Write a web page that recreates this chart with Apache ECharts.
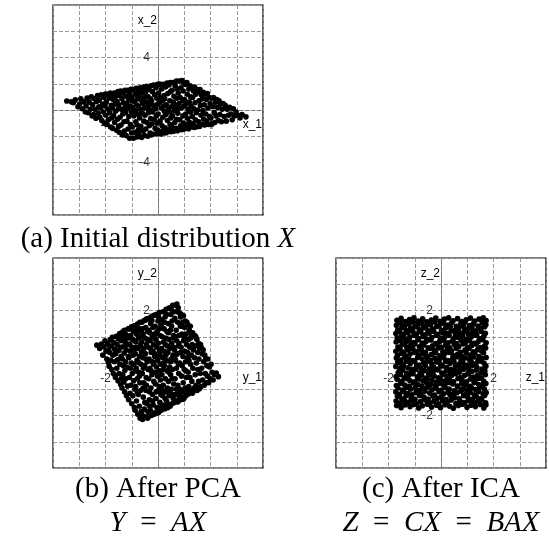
<!DOCTYPE html>
<html>
<head>
<meta charset="utf-8">
<script src="https://cdn.jsdelivr.net/npm/echarts@6/dist/echarts.min.js"></script>
<style>html,body{margin:0;padding:0;background:#fff}#c{width:549px;height:540px}</style>
</head>
<body>
<div id="c"></div>
<script>
// ---- Panel (a): initial distribution X (parallelogram cloud) ----
const pointsA = [
[-6.95,0.69],[-6.6,0.62],
[-6.45,0.55],[-6.3,0.78],[-6.1,0.25],
[-5.97,0.45],[-5.88,0.85],[-5.76,0.10],[-5.64,0.62],[-5.53,-0.15],
[-5.48,0.30],[-5.40,0.92],[-5.32,-0.20],[-5.24,0.60],[-5.16,0.05],[-5.08,1.00],[-5.02,-0.45],
[-4.98,0.40],[-4.92,-0.35],[-4.86,0.85],[-4.80,0.05],[-4.73,-0.62],[-4.67,0.65],[-4.61,1.10],[-4.56,-0.25],[-4.51,0.25],
[-4.48,0.75],[-4.43,-0.55],[-4.38,0.15],[-4.33,1.15],[-4.28,-0.80],[-4.22,0.45],[-4.17,-0.15],[-4.12,0.95],[-4.08,-1.00],[-4.04,0.30],[-4.01,1.22],
[-3.98,-0.40],[-3.94,0.60],[-3.90,-1.10],[-3.85,1.20],[-3.81,0.05],[-3.77,-0.75],[-3.72,0.90],[-3.68,-0.20],[-3.64,1.30],[-3.60,-1.30],[-3.56,0.35],[-3.52,-0.60],[-3.50,1.05],
[-3.48,0.15],[-3.45,-1.40],[-3.41,0.80],[-3.38,-0.45],[-3.34,1.30],[-3.30,-0.95],[-3.27,0.45],[-3.23,-0.10],[-3.19,1.05],[-3.15,-1.55],[-3.12,0.65],[-3.08,-0.70],[-3.05,1.40],[-3.02,0.10],[-3.00,-1.25],
[-2.98,0.40],[-2.95,-1.70],[-2.92,1.10],[-2.89,-0.55],[-2.85,1.45],[-2.82,-1.15],[-2.79,0.05],[-2.75,0.85],[-2.72,-1.90],[-2.68,-0.30],[-2.65,1.30],[-2.62,0.55],[-2.59,-0.90],[-2.56,-1.60],[-2.53,1.50],[-2.51,0.20],
[-2.49,-0.20],[-2.46,1.05],[-2.43,-1.95],[-2.40,0.50],[-2.37,-0.85],[-2.34,1.50],[-2.31,0.10],[-2.28,-1.45],[-2.25,0.85],[-2.22,-0.50],[-2.19,1.25],[-2.16,-2.15],[-2.13,0.30],[-2.10,-1.10],[-2.07,1.58],[-2.04,-0.15],[-2.02,0.70],[-2.01,-1.75],
[-1.99,0.95],[-1.96,-1.30],[-1.93,0.20],[-1.90,1.55],[-1.87,-2.15],[-1.84,-0.45],[-1.81,0.65],[-1.78,-1.70],[-1.75,1.20],[-1.72,-0.05],[-1.69,-0.90],[-1.66,1.65],[-1.63,0.40],[-1.60,-2.05],[-1.58,-1.15],[-1.56,0.85],[-1.54,-0.30],[-1.52,1.40],[-1.51,-1.55],
[-1.49,0.30],[-1.46,-1.85],[-1.43,1.10],[-1.40,-0.60],[-1.37,1.70],[-1.34,0.05],[-1.31,-1.25],[-1.28,0.75],[-1.25,-2.10],[-1.22,1.35],[-1.19,-0.25],[-1.16,0.50],[-1.13,-1.60],[-1.10,1.75],[-1.08,-0.85],[-1.06,0.95],[-1.04,-1.95],[-1.02,0.15],[-1.01,1.50],
[-0.99,-0.40],[-0.96,1.25],[-0.93,-1.45],[-0.90,0.60],[-0.87,1.80],[-0.84,-0.95],[-0.81,0.20],[-0.78,-2.00],[-0.75,1.00],[-0.72,-0.20],[-0.69,1.55],[-0.66,-1.20],[-0.63,0.40],[-0.60,-1.75],[-0.58,0.85],[-0.56,-0.65],[-0.54,1.85],[-0.52,0.00],[-0.51,-1.90],
[-0.49,0.70],[-0.46,-1.05],[-0.43,1.40],[-0.40,-0.15],[-0.37,-1.85],[-0.34,1.90],[-0.31,0.35],[-0.28,-0.70],[-0.25,1.15],[-0.22,-1.40],[-0.19,0.10],[-0.16,1.70],[-0.13,-0.45],[-0.10,-1.80],[-0.08,0.90],[-0.06,-1.00],[-0.04,1.95],[-0.02,0.45],[-0.01,-1.55],
[0.01,-0.30],[0.04,1.30],[0.07,-1.65],[0.10,0.55],[0.13,1.97],[0.16,-0.85],[0.19,0.95],[0.22,-1.82],[0.25,0.15],[0.28,1.60],[0.31,-1.20],[0.34,0.70],[0.37,-0.55],[0.40,1.95],[0.42,-1.50],[0.44,0.30],[0.46,1.10],[0.48,-0.10],[0.49,-1.75],
[0.51,0.85],[0.54,-1.35],[0.57,1.75],[0.60,-0.35],[0.63,0.40],[0.66,-1.72],[0.69,2.05],[0.72,-0.80],[0.75,1.25],[0.78,0.05],[0.81,-1.50],[0.84,1.90],[0.87,-0.15],[0.90,0.70],[0.92,-1.10],[0.94,2.10],[0.96,1.40],[0.98,-0.60],[0.99,-1.65],
[1.01,0.25],[1.04,-1.25],[1.07,1.50],[1.10,-0.45],[1.13,2.10],[1.16,0.60],[1.19,-1.62],[1.22,1.05],[1.25,-0.05],[1.28,-0.95],[1.31,1.85],[1.34,0.35],[1.37,-1.40],[1.40,2.20],[1.42,-0.70],[1.44,0.90],[1.46,1.60],[1.48,-1.58],[1.49,0.10],
[1.51,-0.25],[1.54,1.30],[1.57,-1.50],[1.60,0.50],[1.63,2.20],[1.66,-0.75],[1.69,0.95],[1.72,-1.20],[1.75,1.70],[1.78,0.15],[1.81,-1.50],[1.84,2.25],[1.87,0.70],[1.90,-0.45],[1.92,1.45],[1.94,-1.00],[1.96,2.05],[1.98,0.30],[1.99,-1.45],
[2.02,0.80],[2.05,-1.40],[2.08,1.95],[2.11,-0.30],[2.14,0.45],[2.17,-1.10],[2.20,2.10],[2.23,1.20],[2.26,-0.65],[2.29,0.05],[2.32,-1.42],[2.35,1.60],[2.38,0.60],[2.41,-0.95],[2.44,1.85],[2.47,-0.15],[2.49,1.00],
[2.52,0.30],[2.55,-1.30],[2.58,1.70],[2.61,-0.50],[2.64,0.95],[2.67,-1.05],[2.70,1.45],[2.73,0.10],[2.76,-1.32],[2.79,1.75],[2.82,0.55],[2.85,-0.75],[2.88,1.20],[2.91,-0.20],[2.94,-1.28],[2.97,1.55],
[3.02,0.00],[3.06,1.40],[3.10,-0.90],[3.13,0.70],[3.17,-1.25],[3.20,1.55],[3.24,0.35],[3.28,-0.40],[3.31,1.15],[3.35,-1.10],[3.38,0.85],[3.42,-0.05],[3.45,1.35],[3.48,-0.70],
[3.52,0.40],[3.56,-1.15],[3.60,1.20],[3.64,-0.30],[3.68,0.80],[3.72,-0.85],[3.76,1.25],[3.80,0.15],[3.84,-1.10],[3.88,0.95],[3.92,-0.50],[3.97,0.50],
[4.03,-0.60],[4.08,0.90],[4.13,-1.05],[4.18,0.25],[4.23,0.95],[4.28,-0.20],[4.33,-0.95],[4.38,0.60],[4.43,-0.45],[4.48,0.80],
[4.53,0.20],[4.59,-0.80],[4.65,0.70],[4.71,-0.35],[4.77,0.45],[4.83,-0.90],[4.89,0.05],[4.96,0.50],
[5.04,-0.50],[5.12,0.35],[5.20,-0.85],[5.28,0.05],[5.36,-0.40],[5.45,0.20],
[5.55,-0.30],[5.65,-0.75],[5.74,0.10],[5.84,-0.45],[5.95,-0.15],
[6.08,-0.40],[6.25,-0.60],[6.40,-0.35],
[6.70,-0.52]
];

// ---- Panel (b): after PCA, Y = AX (rotated square) ----
const pointsB = [
[-2.33,0.68],[-2.22,0.55],[-2.15,0.72],
[-2.10,0.30],[-2.06,0.62],[-2.02,0.85],[-1.98,0.45],[-1.95,0.15],[-1.92,0.72],[-1.89,0.02],[-1.88,0.50],
[-1.86,-0.12],[-1.84,0.40],[-1.82,0.88],[-1.80,0.10],[-1.78,0.65],[-1.76,-0.25],[-1.74,0.98],[-1.72,0.30],[-1.70,-0.40],[-1.68,0.78],[-1.66,0.05],[-1.65,0.52],[-1.63,-0.48],
[-1.62,-0.55],[-1.61,0.35],[-1.59,1.02],[-1.57,-0.20],[-1.56,0.70],[-1.54,0.12],[-1.52,-0.68],[-1.51,0.92],[-1.49,0.48],[-1.48,-0.40],[-1.46,1.12],[-1.45,-0.05],[-1.43,0.60],[-1.42,-0.82],[-1.41,0.25],[-1.40,0.85],[-1.39,-0.58],[-1.38,1.05],
[-1.37,-0.95],[-1.36,0.15],[-1.35,1.18],[-1.34,-0.45],[-1.33,0.62],[-1.32,-0.10],[-1.31,0.95],[-1.30,-0.72],[-1.29,0.38],[-1.28,1.25],[-1.27,-1.10],[-1.26,-0.28],[-1.25,0.80],[-1.24,0.05],[-1.23,-0.60],[-1.22,1.08],[-1.21,0.50],[-1.20,-1.25],[-1.19,-0.15],[-1.17,0.70],[-1.16,-0.88],[-1.14,1.30],[-1.13,0.25],
[-1.12,-1.40],[-1.11,0.20],[-1.10,1.30],[-1.09,-0.55],[-1.08,0.72],[-1.07,-1.15],[-1.06,0.45],[-1.05,-0.20],[-1.04,1.05],[-1.03,-0.85],[-1.02,0.00],[-1.01,1.38],[-1.00,-1.55],[-0.99,0.60],[-0.98,-0.40],[-0.97,0.90],[-0.96,-1.25],[-0.95,0.30],[-0.94,1.20],[-0.93,-0.68],[-0.92,-0.05],[-0.91,1.42],[-0.90,-1.70],[-0.89,0.52],[-0.88,-1.00],[-0.88,0.85],[-0.87,-0.30],[-1.13,0.95],
[-0.87,-1.80],[-0.86,0.35],[-0.86,1.40],[-0.85,-0.90],[-0.84,0.80],[-0.83,-0.20],[-0.82,-1.45],[-0.81,1.10],[-0.80,0.10],[-0.79,-0.60],[-0.78,1.48],[-0.77,-1.95],[-0.76,0.55],[-0.75,-1.20],[-0.74,0.95],[-0.73,-0.35],[-0.72,1.30],[-0.71,-1.65],[-0.70,0.25],[-0.69,-0.75],[-0.69,1.55],[-0.68,-2.10],[-0.67,0.68],[-0.66,-1.05],[-0.65,-0.05],[-0.64,1.20],[-0.64,-1.85],[-0.63,0.42],[-0.83,1.25],[-0.79,-1.10],[-0.74,0.02],[-0.71,-0.50],[-0.67,1.00],[-0.85,0.60],
[-0.62,-1.95],[-0.62,0.80],[-0.61,1.55],[-0.60,-0.40],[-0.59,-2.15],[-0.58,0.20],[-0.57,1.10],[-0.56,-1.30],[-0.55,0.55],[-0.54,-0.75],[-0.53,1.62],[-0.52,-1.75],[-0.51,-0.10],[-0.50,0.95],[-0.49,-2.05],[-0.48,0.35],[-0.47,1.35],[-0.46,-1.05],[-0.45,-0.55],[-0.44,0.70],[-0.43,1.68],[-0.42,-1.55],[-0.41,0.05],[-0.40,-2.10],[-0.39,1.20],[-0.38,-0.25],[-0.60,1.30],[-0.57,-0.95],[-0.53,0.40],[-0.50,-1.50],[-0.47,1.64],[-0.44,-0.85],[-0.41,0.90],[-0.39,-1.85],[-0.56,-0.20],[-0.46,0.15],
[-0.37,-2.05],[-0.37,0.60],[-0.36,1.70],[-0.35,-0.60],[-0.34,0.15],[-0.33,-1.40],[-0.32,1.15],[-0.31,-0.20],[-0.30,0.85],[-0.29,-1.80],[-0.28,1.50],[-0.27,-0.95],[-0.26,0.40],[-0.25,-2.00],[-0.24,1.78],[-0.23,-0.45],[-0.22,1.00],[-0.21,-1.20],[-0.20,0.05],[-0.19,1.35],[-0.18,-1.60],[-0.17,0.70],[-0.16,-0.70],[-0.15,1.82],[-0.14,-1.95],[-0.13,0.25],[-0.35,1.25],[-0.32,-1.10],[-0.29,0.55],[-0.26,-0.30],[-0.23,1.62],[-0.20,-1.45],[-0.17,-0.05],[-0.14,1.10],[-0.31,-1.65],[-0.19,0.45],
[-0.12,-1.90],[-0.12,0.35],[-0.11,1.40],[-0.10,-0.80],[-0.09,0.90],[-0.08,-1.35],[-0.07,1.85],[-0.06,-0.15],[-0.05,0.60],[-0.04,-1.70],[-0.03,1.20],[-0.02,-0.50],[-0.01,0.10],[0.00,1.60],[0.01,-1.05],[0.02,0.75],[0.03,-1.88],[0.04,-0.30],[0.05,1.92],[0.06,0.45],[0.07,-1.50],[0.08,1.05],[0.09,-0.65],[0.10,-0.05],[0.11,1.45],[0.12,-1.20],[-0.10,1.10],[-0.07,-1.10],[-0.04,0.25],[-0.01,-1.90],[0.02,1.75],[0.05,-0.90],[0.08,0.30],[0.11,-1.70],[-0.09,-0.35],[0.04,1.30],
[0.13,-1.80],[0.13,0.55],[0.14,1.65],[0.15,-0.45],[0.16,1.00],[0.17,-1.25],[0.18,0.20],[0.19,1.95],[0.20,-0.85],[0.21,0.80],[0.22,-1.60],[0.23,1.30],[0.24,-0.10],[0.25,0.45],[0.26,-1.74],[0.27,1.75],[0.28,-0.60],[0.29,0.95],[0.30,-1.10],[0.31,2.05],[0.32,0.10],[0.33,-1.45],[0.34,1.20],[0.35,-0.30],[0.36,0.65],[0.37,-1.70],[0.15,1.35],[0.18,-1.05],[0.21,0.00],[0.24,1.55],[0.27,-1.35],[0.30,0.30],[0.33,1.85],[0.36,-0.95],[0.19,-0.25],[0.28,0.70],
[0.38,-1.58],[0.38,0.40],[0.39,1.50],[0.40,-0.70],[0.41,0.90],[0.42,-1.25],[0.43,2.10],[0.44,-0.15],[0.45,0.55],[0.46,-1.65],[0.47,1.25],[0.48,-0.45],[0.49,1.85],[0.50,0.15],[0.51,-1.00],[0.52,0.75],[0.53,-1.55],[0.54,1.60],[0.55,-0.25],[0.56,2.20],[0.57,0.30],[0.58,-1.35],[0.59,1.05],[0.60,-0.80],[0.61,1.95],[0.62,-1.50],[0.40,1.15],[0.44,-1.05],[0.48,0.05],[0.52,1.40],[0.56,-1.20],[0.60,0.60],[0.41,-0.35],[0.50,2.05],[0.54,-0.60],[0.58,0.95],
[0.63,-1.50],[0.63,0.50],[0.64,1.70],[0.65,-0.60],[0.66,2.20],[0.67,0.10],[0.68,-1.20],[0.69,1.25],[0.70,-0.20],[0.71,0.85],[0.72,2.25],[0.73,-1.45],[0.74,0.35],[0.75,1.55],[0.76,-0.85],[0.77,2.10],[0.78,0.65],[0.79,-0.40],[0.80,1.05],[0.81,-1.35],[0.82,1.90],[0.83,0.00],[0.84,-1.00],[0.85,1.40],[0.86,0.40],[0.87,-1.40],[0.66,1.00],[0.70,-1.00],[0.74,1.95],[0.78,-0.05],[0.82,-1.15],[0.86,1.75],[0.68,0.30],[0.76,-1.48],[0.80,0.75],
[0.88,-1.30],[0.88,0.60],[0.89,1.85],[0.90,-0.50],[0.91,1.10],[0.92,-0.10],[0.93,-1.10],[0.94,1.55],[0.95,0.25],[0.96,-0.75],[0.97,1.80],[0.98,0.85],[0.99,-1.35],[1.00,-0.25],[1.01,1.35],[1.02,0.45],[1.03,-0.95],[1.04,1.60],[1.05,0.05],[1.06,-1.25],[1.07,1.10],[1.08,-0.55],[1.09,0.70],[1.10,1.55],[1.11,-1.05],[1.12,0.20],[0.90,1.40],[0.95,-1.38],[1.00,0.95],[1.06,-0.30],
[1.13,-1.20],[1.13,0.40],[1.14,1.45],[1.15,-0.35],[1.16,0.90],[1.17,-0.90],[1.18,0.10],[1.19,1.25],[1.20,-1.15],[1.21,0.60],[1.22,-0.55],[1.23,1.40],[1.24,-0.05],[1.25,0.95],[1.26,-1.05],[1.27,0.30],[1.28,1.10],[1.29,-0.70],[1.30,0.70],[1.31,-1.15],[1.32,1.15],[1.33,-0.20],[1.35,0.50],[1.37,-0.95],
[1.38,-1.05],[1.39,0.20],[1.40,1.05],[1.42,-0.45],[1.43,0.65],[1.45,-0.85],[1.46,0.00],[1.48,0.90],[1.49,-1.05],[1.51,0.40],[1.52,-0.25],[1.54,0.75],[1.55,-0.70],[1.56,0.15],[1.58,-0.98],[1.59,0.55],[1.61,-0.40],[1.62,0.70],[1.44,1.00],
[1.63,-0.90],[1.64,0.60],[1.66,-0.20],[1.68,0.35],[1.70,-0.65],[1.72,0.50],[1.74,0.05],[1.76,-0.85],[1.78,0.30],[1.80,-0.40],[1.82,0.15],[1.84,-0.75],[1.86,-0.10],
[1.88,-0.50],[1.90,0.15],[1.93,-0.75],[1.96,-0.15],[1.99,-0.60],[2.02,-0.05],[2.06,-0.35],[2.10,-0.65],
[2.15,-0.45],[2.22,-0.38],[2.30,-0.52]
];

// ---- Panel (c): after ICA, Z = CX = BAX (axis-aligned square) ----
const pointsC = [
[-1.69,-1.62],[-1.52,-1.70],[-1.37,-1.60],[-1.18,-1.66],[-1.03,-1.58],[-0.85,-1.71],[-0.71,-1.63],[-0.52,-1.57],[-0.36,-1.68],[-0.17,-1.61],[-0.02,-1.70],[0.15,-1.59],[0.33,-1.65],[0.47,-1.72],[0.66,-1.62],[0.81,-1.57],[0.99,-1.69],[1.14,-1.61],[1.31,-1.66],[1.50,-1.58],[1.63,-1.71],[1.71,-1.60],
[-1.71,-1.45],[-1.56,-1.53],[-1.40,-1.42],[-1.25,-1.50],[-1.09,-1.44],[-0.93,-1.55],[-0.78,-1.47],[-0.60,-1.41],[-0.44,-1.52],[-0.27,-1.46],[-0.10,-1.55],[0.06,-1.43],[0.24,-1.49],[0.39,-1.41],[0.57,-1.54],[0.73,-1.46],[0.90,-1.51],[1.06,-1.42],[1.22,-1.53],[1.39,-1.47],[1.55,-1.40],[1.70,-1.52],
[-1.66,-1.27],[-1.49,-1.36],[-1.33,-1.25],[-1.14,-1.33],[-0.99,-1.38],[-0.82,-1.24],[-0.65,-1.30],[-0.49,-1.37],[-0.31,-1.26],[-0.14,-1.34],[0.02,-1.28],[0.19,-1.39],[0.35,-1.23],[0.52,-1.32],[0.69,-1.36],[0.86,-1.25],[1.02,-1.31],[1.19,-1.38],[1.34,-1.27],[1.51,-1.35],[1.66,-1.24],
[-1.72,-1.10],[-1.58,-1.19],[-1.42,-1.08],[-1.27,-1.16],[-1.11,-1.21],[-0.95,-1.12],[-0.76,-1.18],[-0.61,-1.07],[-0.43,-1.14],[-0.25,-1.22],[-0.08,-1.09],[0.10,-1.17],[0.27,-1.11],[0.43,-1.20],[0.61,-1.13],[0.77,-1.07],[0.95,-1.19],[1.11,-1.12],[1.27,-1.21],[1.43,-1.09],[1.60,-1.16],[1.72,-1.13],
[-1.64,-0.95],[-1.47,-1.03],[-1.30,-0.92],[-1.16,-1.00],[-0.98,-0.94],[-0.83,-1.05],[-0.67,-0.97],[-0.50,-0.91],[-0.34,-1.02],[-0.18,-0.96],[0.00,-1.04],[0.16,-0.93],[0.31,-0.99],[0.50,-1.06],[0.64,-0.90],[0.83,-0.98],[0.98,-1.03],[1.16,-0.94],[1.31,-1.01],[1.48,-0.92],[1.65,-0.99],
[-1.70,-0.86],[-1.54,-0.77],[-1.38,-0.84],[-1.21,-0.89],[-1.05,-0.76],[-0.88,-0.82],[-0.73,-0.88],[-0.55,-0.75],[-0.39,-0.81],[-0.21,-0.87],[-0.05,-0.78],[0.12,-0.85],[0.28,-0.74],[0.45,-0.80],[0.62,-0.88],[0.79,-0.77],[0.94,-0.83],[1.10,-0.89],[1.26,-0.75],[1.44,-0.82],[1.58,-0.87],[1.71,-0.78],
[-1.67,-0.62],[-1.50,-0.70],[-1.35,-0.59],[-1.19,-0.67],[-1.01,-0.72],[-0.86,-0.61],[-0.69,-0.68],[-0.53,-0.58],[-0.36,-0.64],[-0.19,-0.73],[-0.03,-0.60],[0.14,-0.69],[0.32,-0.63],[0.48,-0.71],[0.65,-0.59],[0.80,-0.66],[0.97,-0.72],[1.13,-0.61],[1.30,-0.68],[1.46,-0.58],[1.63,-0.70],
[-1.71,-0.52],[-1.55,-0.44],[-1.40,-0.55],[-1.23,-0.47],[-1.07,-0.41],[-0.90,-0.53],[-0.74,-0.46],[-0.58,-0.57],[-0.41,-0.43],[-0.26,-0.50],[-0.09,-0.56],[0.08,-0.44],[0.23,-0.52],[0.41,-0.47],[0.56,-0.41],[0.74,-0.55],[0.89,-0.48],[1.05,-0.42],[1.22,-0.54],[1.37,-0.49],[1.54,-0.57],[1.69,-0.45],
[-1.63,-0.36],[-1.46,-0.27],[-1.31,-0.39],[-1.13,-0.31],[-0.97,-0.25],[-0.80,-0.37],[-0.63,-0.29],[-0.47,-0.40],[-0.30,-0.33],[-0.13,-0.26],[0.03,-0.38],[0.20,-0.30],[0.36,-0.40],[0.53,-0.28],[0.70,-0.35],[0.85,-0.25],[1.03,-0.39],[1.18,-0.32],[1.35,-0.27],[1.52,-0.38],[1.67,-0.30],
[-1.72,-0.13],[-1.57,-0.21],[-1.43,-0.10],[-1.26,-0.18],[-1.10,-0.24],[-0.93,-0.12],[-0.77,-0.19],[-0.60,-0.09],[-0.44,-0.22],[-0.28,-0.15],[-0.11,-0.23],[0.05,-0.11],[0.22,-0.17],[0.38,-0.24],[0.55,-0.10],[0.72,-0.20],[0.87,-0.14],[1.05,-0.22],[1.20,-0.09],[1.37,-0.17],[1.56,-0.23],[1.71,-0.12],
[-1.65,0.03],[-1.49,-0.06],[-1.32,0.07],[-1.17,-0.02],[-1.00,0.05],[-0.84,-0.08],[-0.66,0.01],[-0.51,0.08],[-0.35,-0.04],[-0.16,0.04],[-0.01,-0.07],[0.17,0.06],[0.34,-0.01],[0.49,0.07],[0.67,-0.05],[0.83,0.02],[1.00,-0.08],[1.15,0.05],[1.33,-0.03],[1.48,0.08],[1.64,-0.01],
[-1.70,0.19],[-1.53,0.11],[-1.39,0.23],[-1.22,0.14],[-1.06,0.09],[-0.89,0.21],[-0.72,0.15],[-0.56,0.24],[-0.40,0.10],[-0.23,0.18],[-0.07,0.12],[0.10,0.22],[0.26,0.09],[0.44,0.16],[0.59,0.24],[0.76,0.11],[0.92,0.19],[1.09,0.13],[1.24,0.23],[1.41,0.10],[1.57,0.17],[1.72,0.21],
[-1.66,0.28],[-1.51,0.37],[-1.34,0.26],[-1.18,0.34],[-1.02,0.40],[-0.85,0.29],[-0.70,0.36],[-0.52,0.25],[-0.37,0.32],[-0.20,0.39],[-0.04,0.27],[0.13,0.35],[0.30,0.40],[0.46,0.28],[0.63,0.33],[0.79,0.26],[0.96,0.38],[1.12,0.30],[1.29,0.36],[1.45,0.25],[1.62,0.39],
[-1.72,0.45],[-1.56,0.53],[-1.41,0.42],[-1.24,0.50],[-1.08,0.56],[-0.92,0.44],[-0.75,0.51],[-0.59,0.41],[-0.42,0.55],[-0.25,0.47],[-0.10,0.57],[0.07,0.43],[0.24,0.52],[0.40,0.46],[0.58,0.56],[0.73,0.41],[0.91,0.49],[1.07,0.55],[1.23,0.43],[1.40,0.51],[1.55,0.45],[1.70,0.57],
[-1.64,0.61],[-1.48,0.70],[-1.30,0.59],[-1.15,0.67],[-0.99,0.73],[-0.82,0.62],[-0.65,0.69],[-0.49,0.58],[-0.32,0.66],[-0.15,0.72],[0.01,0.60],[0.18,0.68],[0.34,0.58],[0.51,0.71],[0.68,0.63],[0.84,0.73],[1.01,0.60],[1.17,0.67],[1.34,0.72],[1.50,0.59],[1.66,0.65],
[-1.71,0.80],[-1.55,0.87],[-1.37,0.75],[-1.21,0.84],[-1.05,0.78],[-0.88,0.89],[-0.72,0.76],[-0.56,0.83],[-0.39,0.88],[-0.22,0.74],[-0.06,0.81],[0.11,0.86],[0.27,0.77],[0.43,0.84],[0.60,0.74],[0.77,0.87],[0.93,0.79],[1.08,0.85],[1.25,0.75],[1.42,0.82],[1.59,0.89],[1.72,0.77],
[-1.67,0.95],[-1.51,1.03],[-1.35,0.91],[-1.19,0.99],[-1.03,1.05],[-0.86,0.93],[-0.69,1.01],[-0.53,0.90],[-0.35,0.97],[-0.18,1.06],[-0.02,0.94],[0.15,1.00],[0.31,1.05],[0.48,0.92],[0.65,0.98],[0.82,1.04],[0.97,0.91],[1.15,0.99],[1.30,1.06],[1.47,0.93],[1.63,1.02],
[-1.72,1.12],[-1.57,1.20],[-1.42,1.08],[-1.26,1.16],[-1.09,1.22],[-0.94,1.10],[-0.77,1.18],[-0.61,1.07],[-0.45,1.14],[-0.28,1.21],[-0.12,1.09],[0.05,1.17],[0.21,1.12],[0.38,1.22],[0.55,1.07],[0.70,1.15],[0.88,1.20],[1.04,1.10],[1.20,1.17],[1.36,1.08],[1.53,1.21],[1.69,1.13],
[-1.65,1.26],[-1.49,1.35],[-1.33,1.24],[-1.16,1.32],[-1.00,1.38],[-0.83,1.27],[-0.67,1.34],[-0.50,1.23],[-0.33,1.30],[-0.16,1.39],[0.02,1.25],[0.18,1.33],[0.35,1.37],[0.52,1.24],[0.67,1.31],[0.85,1.39],[1.01,1.28],[1.18,1.35],[1.33,1.23],[1.50,1.32],[1.66,1.38],
[-1.70,1.44],[-1.54,1.52],[-1.38,1.41],[-1.22,1.49],[-1.06,1.55],[-0.90,1.43],[-0.73,1.50],[-0.57,1.40],[-0.40,1.47],[-0.24,1.56],[-0.08,1.42],[0.09,1.51],[0.26,1.45],[0.41,1.54],[0.58,1.40],[0.75,1.48],[0.91,1.55],[1.08,1.43],[1.24,1.50],[1.41,1.41],[1.57,1.53],[1.71,1.46],
[-1.68,1.63],[-1.52,1.70],[-1.36,1.58],[-1.20,1.66],[-1.03,1.72],[-0.87,1.60],[-0.70,1.68],[-0.54,1.57],[-0.37,1.64],[-0.20,1.71],[-0.04,1.59],[0.13,1.67],[0.29,1.72],[0.46,1.61],[0.63,1.69],[0.79,1.58],[0.96,1.65],[1.12,1.71],[1.28,1.60],[1.45,1.67],[1.61,1.72],[1.72,1.62]
];

// ---- axis ranges, tick labels, names, captions ----
const axisMin = [-8, -4, -4];
const axisMax = [8, 4, 4];
const axisStep = [2, 1, 1];
const shownTicks = [[-4, 4], [-2, 2], [-2, 2]];
const xNames = ['x_1', 'y_1', 'z_1'];
const yNames = ['x_2', 'y_2', 'z_2'];
const captionA = ['(a) Initial distribution ', 'X'];
const captionB = ['(b) After PCA', 'Y', 'AX'];
const captionC = ['(c) After ICA', 'Z', 'CX', 'BAX'];

const chart = echarts.init(document.getElementById('c'), null, {renderer: 'canvas'});
const grids = [
  {left: 53, top: 5, width: 210, height: 210},
  {left: 53, top: 258, width: 210, height: 210},
  {left: 336, top: 258, width: 210, height: 210}
];
const sans = 'Liberation Sans, Arial, Helvetica, sans-serif';
const serif = 'Liberation Serif, Times New Roman, serif';
const gridLine = {color: '#9a9a9a', width: 1, type: [4, 2]};
const axisLn = {color: '#777', width: 1, type: [4, 2]};
const tickFont = {color: '#000', fontFamily: sans, fontSize: 12};

function mkAxis(i, isX) {
  return {
    type: 'value', gridIndex: i, min: axisMin[i], max: axisMax[i], interval: axisStep[i],
    axisLine: {show: true, onZero: true, lineStyle: axisLn},
    axisTick: {show: false},
    splitLine: {show: true, lineStyle: gridLine},
    axisLabel: {show: false},
    name: isX ? xNames[i] : yNames[i],
    nameLocation: 'end',
    nameGap: isX ? -1 : -10,
    nameTextStyle: isX
      ? Object.assign({align: 'right', verticalAlign: 'top', padding: [9, 0, 0, 0]}, tickFont)
      : Object.assign({align: 'right', verticalAlign: 'top', padding: [0, 1, 0, 0]}, tickFont)
  };
}

const sets = [pointsA, pointsB, pointsC];
const series = [];
[0, 1, 2].forEach(i => {
  // tick labels on the zero-crossing axes (drawn beneath the clouds)
  series.push({
    type: 'scatter', xAxisIndex: i, yAxisIndex: i, silent: true, z: 1,
    symbolSize: 0, itemStyle: {color: 'transparent'},
    data: shownTicks[i].map(v => [v, 0]),
    label: Object.assign({show: true, position: 'bottom', distance: 10, formatter: p => String(p.value[0])}, tickFont)
  });
  series.push({
    type: 'scatter', xAxisIndex: i, yAxisIndex: i, silent: true, z: 1,
    symbolSize: 0, itemStyle: {color: 'transparent'},
    data: shownTicks[i].map(v => [0, v]),
    label: Object.assign({show: true, position: 'left', distance: 8, formatter: p => String(p.value[1])}, tickFont)
  });
  series.push({
    type: 'scatter', xAxisIndex: i, yAxisIndex: i, data: sets[i],
    symbol: 'circle', symbolSize: 5.6, itemStyle: {color: '#000', opacity: 1}, silent: true, z: 3
  });
});

const fs = 29;
const rich = {
  r: {fontFamily: serif, fontSize: fs, color: '#000'},
  i: {fontFamily: serif, fontSize: fs, fontStyle: 'italic', color: '#000'}
};
const sp = '\u2002';
function cap(x, y, text) {
  return {type: 'text', x: x, y: y, silent: true,
    style: {text: text, rich: rich, align: 'center', verticalAlign: 'middle', fill: '#000', font: fs + 'px ' + serif}};
}

chart.setOption({
  animation: false,
  backgroundColor: '#fff',
  grid: grids.map(g => Object.assign({show: true, borderColor: '#000', borderWidth: 1.2, backgroundColor: 'transparent'}, g)),
  xAxis: [0, 1, 2].map(i => mkAxis(i, true)),
  yAxis: [0, 1, 2].map(i => mkAxis(i, false)),
  series: series,
  graphic: [
    cap(158, 239.5, '{r|' + captionA[0] + '}{i|' + captionA[1] + '}'),
    cap(158, 489, '{r|' + captionB[0] + '}'),
    cap(158, 523, '{i|' + captionB[1] + '}{r|' + sp + '=' + sp + '}{i|' + captionB[2] + '}'),
    cap(441, 489, '{r|' + captionC[0] + '}'),
    cap(441, 523, '{i|' + captionC[1] + '}{r|' + sp + '=' + sp + '}{i|' + captionC[2] + '}{r|' + sp + '=' + sp + '}{i|' + captionC[3] + '}')
  ]
});
</script>
</body>
</html>
